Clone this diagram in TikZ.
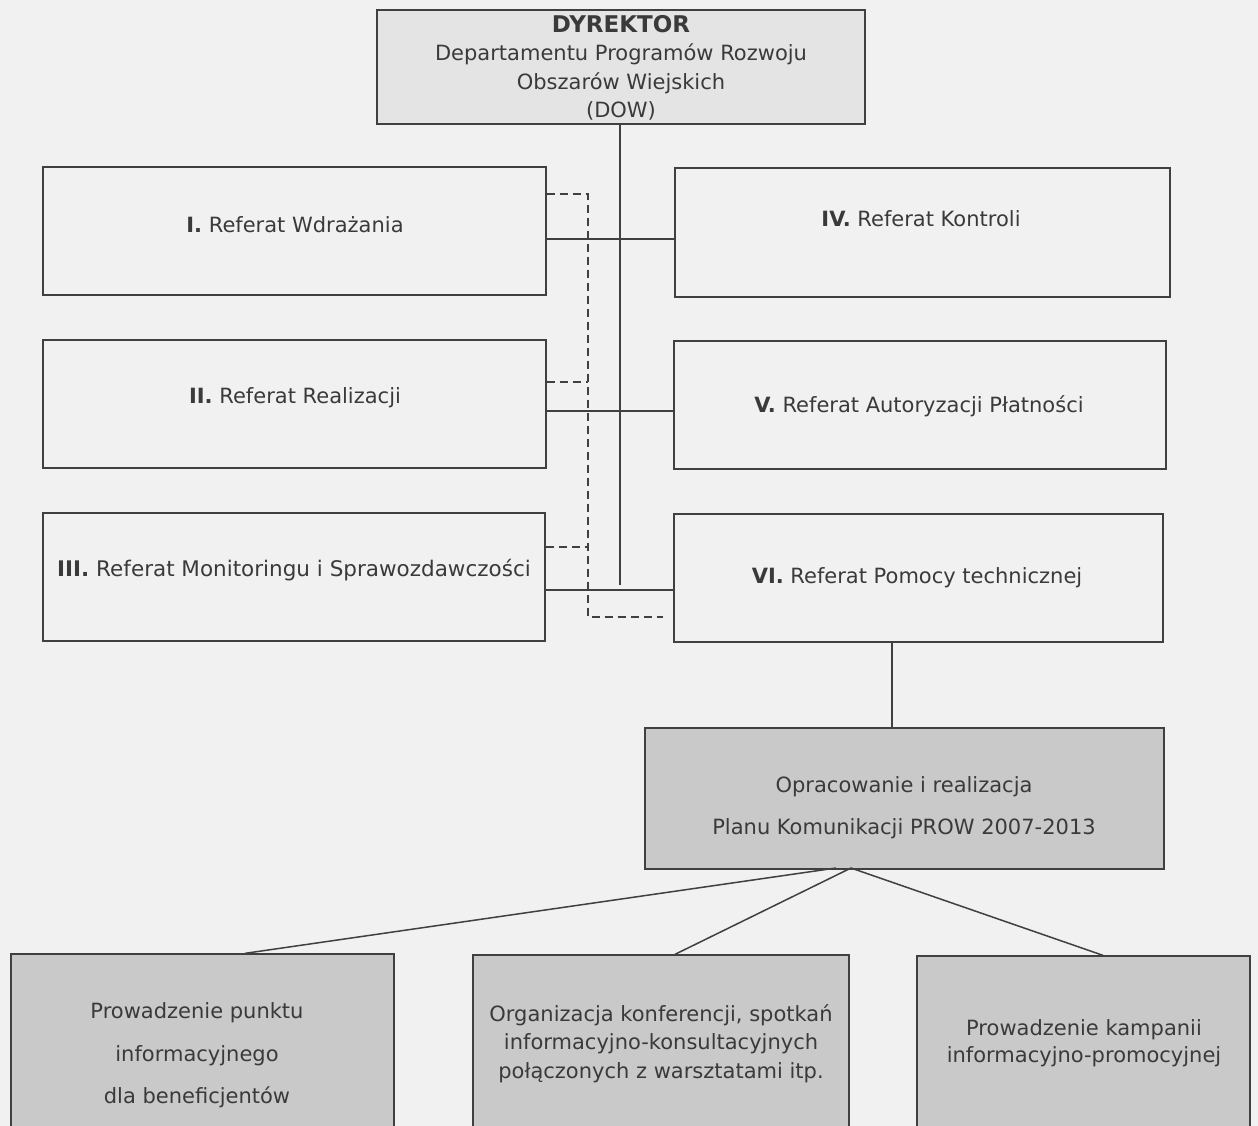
\documentclass[tikz,border=0pt]{standalone}
\usepackage{fontspec}
\setmainfont{DejaVu Sans}
\definecolor{bg}{HTML}{F1F1F1}
\definecolor{topfill}{HTML}{E4E4E4}
\definecolor{darkfill}{HTML}{C9C9C9}
\definecolor{ink}{HTML}{3A3A3A}
\definecolor{linec}{HTML}{404040}
\begin{document}
\begin{tikzpicture}[x=1pt,y=-1pt,
  box/.style={draw=linec, line width=1.3pt, inner sep=0pt},
  lbl/.style={text=ink, align=center, inner sep=0pt, font=\fontsize{21}{28.5}\selectfont},
  conn/.style={draw=linec, line width=1.5pt},
  dconn/.style={draw=linec, line width=1.5pt, dash pattern=on 8pt off 5pt}]
\clip (0,0) rectangle (1258,1126);
\fill[bg] (0,0) rectangle (1258,1126);
% boxes
\node[box, fill=topfill, minimum width=488pt, minimum height=114pt] (dow) at (621,67) {};
\node[box, fill=bg, minimum width=503pt, minimum height=128pt] (r1) at (294.5,231) {};
\node[box, fill=bg, minimum width=495pt, minimum height=129pt] (r4) at (922.5,232.5) {};
\node[box, fill=bg, minimum width=503pt, minimum height=128pt] (r2) at (294.5,404) {};
\node[box, fill=bg, minimum width=492pt, minimum height=128pt] (r5) at (920,405) {};
\node[box, fill=bg, minimum width=502pt, minimum height=128pt] (r3) at (294,577) {};
\node[box, fill=bg, minimum width=489pt, minimum height=128pt] (r6) at (918.5,578) {};
\node[box, fill=darkfill, minimum width=519pt, minimum height=141pt] (plan) at (904.5,798.5) {};
\node[box, fill=darkfill, minimum width=383pt, minimum height=200pt] (b1) at (202.5,1054) {};
\node[box, fill=darkfill, minimum width=376pt, minimum height=200pt] (b2) at (661,1055) {};
\node[box, fill=darkfill, minimum width=333pt, minimum height=200pt] (b3) at (1083.5,1056) {};
% texts
\node[lbl] (tdow) at (621,68) {{\fontsize{23}{28.5}\selectfont\textbf{DYREKTOR}}\\Departamentu Programów Rozwoju\\Obszarów Wiejskich\\(DOW)};
\node[lbl] (t1) at (295,225) {\textbf{I.} Referat Wdrażania};
\node[lbl] (t4) at (921,219) {\textbf{IV.} Referat Kontroli};
\node[lbl] (t2) at (295,398) {\textbf{II.} Referat Realizacji};
\node[lbl] (t5) at (919,406) {\textbf{V.} Referat Autoryzacji Płatności};
\node[lbl, font=\fontsize{21.5}{28.5}\selectfont] (t3) at (294,570) {\textbf{III.} Referat Monitoringu i Sprawozdawczości};
\node[lbl] (t6) at (917,578) {\textbf{VI.} Referat Pomocy technicznej};
\node[lbl, font=\fontsize{21}{42}\selectfont] (tplan) at (904,808) {Opracowanie i realizacja\\Planu Komunikacji PROW 2007-2013};
\node[lbl, font=\fontsize{21}{42.5}\selectfont] (tb1) at (197,1055.5) {Prowadzenie punktu\\informacyjnego\\dla beneficjentów};
\node[lbl] (tb2) at (661,1043.5) {Organizacja konferencji, spotkań\\informacyjno-konsultacyjnych\\połączonych z warsztatami itp.};
\node[lbl, font=\fontsize{21}{27}\selectfont] (tb3) at (1084,1043.5) {Prowadzenie kampanii\\informacyjno-promocyjnej};
% connectors
\coordinate (vend) at (620,585);
\draw[conn] (dow.south -| vend) -- (vend);
\draw[conn] (r1.east |- 0,239) -- (r4.west |- 0,239);
\draw[conn] (r2.east |- 0,411) -- (r5.west |- 0,411);
\draw[conn] (r3.east |- 0,590) -- (r6.west |- 0,590);
\coordinate (dtop) at (588,194);
\coordinate (dbot) at (588,617);
\coordinate (dend) at (663,617);
\draw[dconn] (r1.east |- dtop) -- (dtop) -- (dbot) -- (dend);
\draw[dconn] (r2.east |- 0,382) -- (588,382);
\draw[dconn] (r3.east |- 0,547) -- (588,547);
\draw[conn] (r6.south -| 892,0) -- (plan.north -| 892,0);
\coordinate (p1) at (836,868);
\coordinate (p2) at (851,868);
\draw[conn] (p1) -- (b1.north -| 245,0);
\draw[conn] (p2) -- (b2.north -| 675,0);
\draw[conn] (p2) -- (b3.north -| 1103,0);
\end{tikzpicture}
\end{document}
